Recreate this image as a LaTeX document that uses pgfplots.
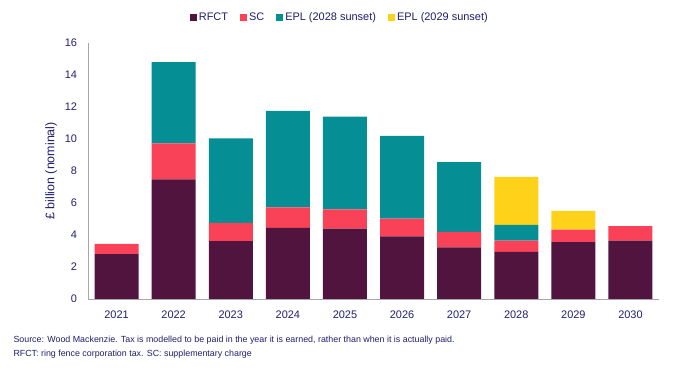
\documentclass[border=0pt]{standalone}
\usepackage{pgfplots}
\pgfplotsset{compat=1.18}
\usepackage{fontspec}
\setmainfont{Liberation Sans}
\definecolor{rfct}{HTML}{51143E}
\definecolor{sc}{HTML}{F94157}
\definecolor{epla}{HTML}{058F94}
\definecolor{eplb}{HTML}{FFD21A}
\definecolor{navy}{HTML}{1F1F6E}
\definecolor{axgrey}{HTML}{A6A6A6}
\begin{document}
\begin{tikzpicture}
\useasboundingbox (0,0) rectangle (679bp,374bp);
\begin{axis}[
  at={(88bp,75bp)}, anchor=south west,
  scale only axis, width=571bp, height=256bp,
  ybar stacked, bar width=44bp,
  xmin=-0.5, xmax=9.5, ymin=0, ymax=16,
  xtick={0,...,9},
  xticklabels={2021,2022,2023,2024,2025,2026,2027,2028,2029,2030},
  ytick={0,2,...,16},
  major tick length=0pt,
  axis x line*=bottom, axis y line*=left,
  axis line style={axgrey, line width=0.8pt, -},
  tick label style={font=\fontsize{11}{13}\selectfont, text=navy},
  /pgf/number format/assume math mode=true,
  yticklabel style={xshift=-7.5bp},
  xticklabel style={yshift=-8bp},
  ylabel={£ billion (nominal)},
  ylabel style={font=\fontsize{12.5}{14}\selectfont, text=navy, yshift=1bp},
  legend columns=4,
  legend style={draw=none, font=\fontsize{11}{13}\selectfont, text=navy,
    at={(0.441,1.10)}, anchor=center,
    /tikz/every even column/.append style={column sep=10bp}},
  legend image code/.code={\fill[#1] (0bp,-3.5bp) rectangle (7bp,3.5bp);},
]
\addplot[fill=rfct, draw=none] coordinates {(0,2.80) (1,7.48) (2,3.62) (3,4.44) (4,4.40) (5,3.92) (6,3.23) (7,2.94) (8,3.56) (9,3.65)};
\addplot[fill=sc, draw=none] coordinates {(0,0.64) (1,2.25) (2,1.13) (3,1.29) (4,1.20) (5,1.10) (6,0.96) (7,0.71) (8,0.77) (9,0.91)};
\addplot[fill=epla, draw=none] coordinates {(0,0) (1,5.07) (2,5.29) (3,6.02) (4,5.80) (5,5.17) (6,4.37) (7,0.98) (8,0) (9,0)};
\addplot[fill=eplb, draw=none] coordinates {(0,0) (1,0) (2,0) (3,0) (4,0) (5,0) (6,0) (7,3.00) (8,1.17) (9,0)};
\legend{RFCT, SC, EPL (2028 sunset), EPL (2029 sunset)}
\end{axis}
\node[anchor=west, text=navy, font=\fontsize{8.9}{13.5}\selectfont, align=left] at (10bp,27bp)
  {Source: Wood Mackenzie. Tax is modelled to be paid in the year it is earned, rather than when it is actually paid.\\
   RFCT: ring fence corporation tax. SC: supplementary charge};
\end{tikzpicture}
\end{document}
